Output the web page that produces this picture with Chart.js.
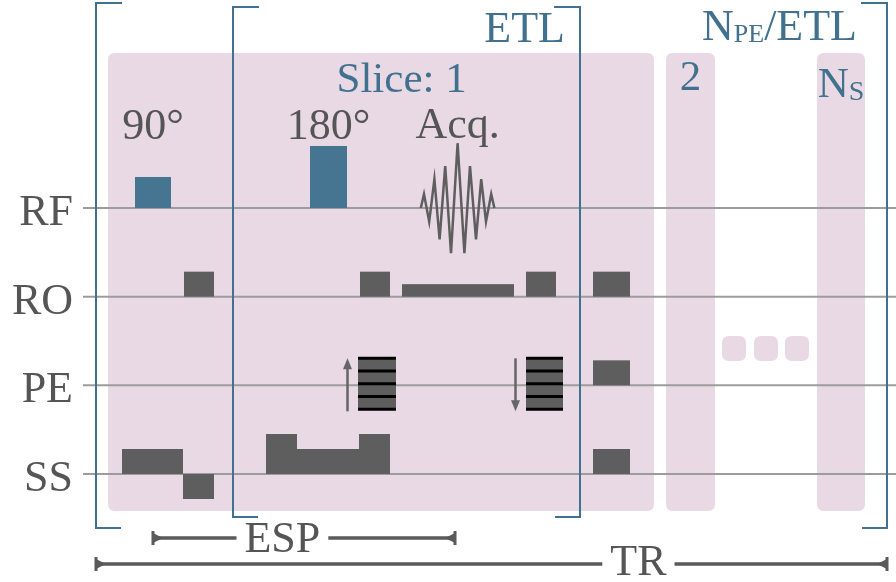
<!DOCTYPE html>
<html>
<head>
<meta charset="utf-8">
<script src="https://cdn.jsdelivr.net/npm/chart.js@4.4.1/dist/chart.umd.min.js"></script>
<style>
  html, body { margin: 0; padding: 0; background: #ffffff; }
  canvas { display: block; }
</style>
</head>
<body>
<canvas id="seq" width="896" height="582"></canvas>
<script>
// Fast spin echo timing diagram.
// Time runs along x in arbitrary units; each channel sits on its own row of y.

const channels = ['RF', 'RO', 'PE', 'SS'];
const channelRow = [3, 2, 1, 0];

// RF pulses: [start, end, amplitude]
const rfPulses = [[33.75, 42.75, 1], [77.5, 86.75, 2]];
const rfLabels = ['90°', '180°'];

// Sampled echo (time, amplitude)
const acqTime = [105.2, 106, 107.3, 108.6, 109.9, 111.3, 112.75, 114.4, 116.1, 117.5, 119, 120.3, 121.5, 122.8, 123.6];
const acqAmp  = [0, 0.45, -0.44, 0.93, -1.01, 1.35, -1.46, 2.09, -1.46, 1.35, -1.01, 0.93, -0.44, 0.45, 0];
const acqLabel = 'Acq.';

// Gradient lobes: [start, end, amplitude]
const roLobes = [[46, 53.5, 1], [90, 97.5, 1], [100.5, 128.5, 0.5], [131.5, 139, 1], [148.25, 157.5, 1]];
const peLobes = [[148.25, 157.5, 1]];
const ssLobes = [[30.5, 45.75, 1], [45.75, 53.5, -1], [66.5, 74.25, 1.6], [74.25, 89.75, 1],
                 [89.75, 97.5, 1.6], [148.25, 157.5, 1]];

// Phase-encode tables: [start, end, step direction] and the table's levels
const peTables = [[89.5, 99, 1], [131.5, 140.75, -1]];
const peSteps = [1.08, 0.57, 0.06, -0.45, -0.96];

// Slice blocks inside one TR: [start, end]
const sliceBlocks = [[27, 163.5], [166.5, 178.75], [204.25, 216.25]];
const sliceNames = ['Slice: 1', '2', 'N'];
const sliceLabelTime = [100.4, 172.6, 210.25];
const skipMarks = [183.5, 191.5, 199.25];

// Timing spans
const etlSpan = [58.25, 145];
const trSpan = [24, 221.75];
const espSpan = [38.25, 113.75];
const espLabelTime = 70.6;
const trLabelTime = 159.6;

// ---- look ----
const T_MIN = 0, T_MAX = 224;
const Y_MAX = 474 / 88.67, Y_MIN = -108 / 88.67;
const GRAD_UNIT = 25 / 88.67;   // row units per gradient amplitude unit
const RF_UNIT = 31 / 88.67;     // row units per RF amplitude unit
const SERIF = '"Liberation Serif", "Times New Roman", Tinos, serif';
const BLUE = '#41718e';
const RF_BLUE = '#467591';
const GREY_TXT = '#555555';
const GRAD = '#5e5e5e';
const PINK = '#e8d9e4';
const BASE = '#9c9c9c';

function roundRect(ctx, x, y, w, h, r) {
  ctx.beginPath();
  ctx.moveTo(x + r, y);
  ctx.lineTo(x + w - r, y);
  ctx.quadraticCurveTo(x + w, y, x + w, y + r);
  ctx.lineTo(x + w, y + h - r);
  ctx.quadraticCurveTo(x + w, y + h, x + w - r, y + h);
  ctx.lineTo(x + r, y + h);
  ctx.quadraticCurveTo(x, y + h, x, y + h - r);
  ctx.lineTo(x, y + r);
  ctx.quadraticCurveTo(x, y, x + r, y);
  ctx.closePath();
}

// Rich text: parts = [{t, size, dy}], drawn left to right
function richWidth(ctx, parts) {
  let w = 0;
  parts.forEach(p => { ctx.font = p.size + 'px ' + SERIF; w += ctx.measureText(p.t).width; });
  return w;
}
function drawRich(ctx, parts, x, y, align, color) {
  const w = richWidth(ctx, parts);
  let cx = align === 'right' ? x - w : align === 'center' ? x - w / 2 : x;
  ctx.fillStyle = color;
  ctx.textAlign = 'left';
  ctx.textBaseline = 'alphabetic';
  parts.forEach(p => {
    ctx.font = p.size + 'px ' + SERIF;
    ctx.fillText(p.t, cx, y + (p.dy || 0));
    cx += ctx.measureText(p.t).width;
  });
}

function arrow(ctx, x, y0, y1) {
  const dir = Math.sign(y1 - y0);
  ctx.strokeStyle = '#666666';
  ctx.fillStyle = '#666666';
  ctx.lineWidth = 2.5;
  ctx.beginPath();
  ctx.moveTo(x, y0);
  ctx.lineTo(x, y1 - dir * 8);
  ctx.stroke();
  ctx.beginPath();
  ctx.moveTo(x, y1);
  ctx.lineTo(x - 4.5, y1 - dir * 11);
  ctx.lineTo(x + 4.5, y1 - dir * 11);
  ctx.closePath();
  ctx.fill();
}

function endCap(ctx, x, y, inward) {
  ctx.fillRect(x - 1.5, y - 7, 3, 14);
  ctx.beginPath();
  ctx.moveTo(x, y - 5);
  ctx.lineTo(x, y + 5);
  ctx.lineTo(x + inward * 10, y);
  ctx.closePath();
  ctx.fill();
}

function spanWithLabel(ctx, X, span, yPx, label, labelT, baseline) {
  ctx.font = '44px ' + SERIF;
  const w = ctx.measureText(label).width;
  const cx = X(labelT);
  const a = X(span[0]), b = X(span[1]);
  ctx.strokeStyle = '#5a5a5a';
  ctx.fillStyle = '#5a5a5a';
  ctx.lineWidth = 3.5;
  ctx.beginPath();
  ctx.moveTo(a, yPx); ctx.lineTo(cx - w / 2 - 8, yPx);
  ctx.moveTo(cx + w / 2 + 8, yPx); ctx.lineTo(b, yPx);
  ctx.stroke();
  endCap(ctx, a, yPx, 1);
  endCap(ctx, b, yPx, -1);
  ctx.fillStyle = GREY_TXT;
  ctx.textAlign = 'center';
  ctx.textBaseline = 'alphabetic';
  ctx.fillText(label, cx, baseline);
}

function bracket(ctx, x, yTop, yBot, dir) {
  ctx.strokeStyle = BLUE;
  ctx.lineWidth = 2;
  ctx.beginPath();
  ctx.moveTo(x + dir * 26, yTop);
  ctx.lineTo(x, yTop);
  ctx.lineTo(x, yBot);
  ctx.lineTo(x + dir * 25, yBot);
  ctx.stroke();
}

const diagram = {
  id: 'diagram',
  beforeDatasetsDraw(chart) {
    const ctx = chart.ctx;
    const X = v => chart.scales.x.getPixelForValue(v);
    const Y = v => chart.scales.y.getPixelForValue(v);
    ctx.save();
    // slice blocks
    const top = Y(4.748), bot = Y(-0.417);
    ctx.fillStyle = PINK;
    sliceBlocks.forEach(b => {
      roundRect(ctx, X(b[0]), top, X(b[1]) - X(b[0]), bot - top, 7);
      ctx.fill();
    });
    // skipped slices
    skipMarks.forEach(t => {
      const cx = X(t), cy = Y(1.415);
      roundRect(ctx, cx - 12, cy - 12.5, 24, 25, 7);
      ctx.fill();
    });
    ctx.restore();
  },
  afterDatasetsDraw(chart) {
    const ctx = chart.ctx;
    const X = v => chart.scales.x.getPixelForValue(v);
    const Y = v => chart.scales.y.getPixelForValue(v);
    ctx.save();

    // RF pulses
    ctx.fillStyle = RF_BLUE;
    rfPulses.forEach(p => {
      const y0 = Y(3), y1 = Y(3 + p[2] * RF_UNIT);
      ctx.fillRect(X(p[0]), y1, X(p[1]) - X(p[0]), y0 - y1);
    });

    // gradient lobes
    ctx.fillStyle = GRAD;
    const lobes = (list, row) => list.forEach(g => {
      const y0 = Y(row), y1 = Y(row + g[2] * GRAD_UNIT);
      ctx.fillRect(X(g[0]), Math.min(y0, y1), X(g[1]) - X(g[0]), Math.abs(y1 - y0));
    });
    lobes(roLobes, 2);
    lobes(peLobes, 1);
    lobes(ssLobes, 0);

    // phase-encode tables
    peTables.forEach(tb => {
      const x0 = X(tb[0]), x1 = X(tb[1]);
      const yT = Y(1 + peSteps[0] * GRAD_UNIT);
      const yB = Y(1 + peSteps[peSteps.length - 1] * GRAD_UNIT);
      ctx.fillStyle = GRAD;
      ctx.fillRect(x0, yT, x1 - x0, yB - yT);
      ctx.strokeStyle = '#000000';
      ctx.lineWidth = 3;
      ctx.beginPath();
      peSteps.forEach(s => {
        const y = Y(1 + s * GRAD_UNIT);
        ctx.moveTo(x0, y); ctx.lineTo(x1, y);
      });
      ctx.stroke();
      const ax = x0 - 10.5;
      const up = Y(1 + 1.08 * GRAD_UNIT), dn = Y(1 - 1.04 * GRAD_UNIT);
      if (tb[2] > 0) arrow(ctx, ax, dn, up); else arrow(ctx, ax, up, dn);
    });

    // brackets
    bracket(ctx, X(trSpan[0]), Y(5.312), Y(-0.609), 1);
    bracket(ctx, X(trSpan[1]), Y(5.312), Y(-0.609), -1);
    bracket(ctx, X(etlSpan[0]), Y(5.267), Y(-0.485), 1);
    bracket(ctx, X(etlSpan[1]), Y(5.267), Y(-0.485), -1);

    // channel names
    channels.forEach((c, i) => {
      drawRich(ctx, [{ t: c, size: 44 }], X(18.25), Y(channelRow[i]) + 17, 'right', GREY_TXT);
    });

    // pulse and acquisition labels
    rfPulses.forEach((p, i) => {
      drawRich(ctx, [{ t: rfLabels[i], size: 44 }], X((p[0] + p[1]) / 2), Y(3) - 69, 'center', GREY_TXT);
    });
    drawRich(ctx, [{ t: acqLabel, size: 44 }], X((acqTime[0] + acqTime[acqTime.length - 1]) / 2), Y(3) - 70, 'center', GREY_TXT);

    // slice labels
    const blockTop = Y(4.748);
    drawRich(ctx, [{ t: sliceNames[0], size: 43 }], X(sliceLabelTime[0]), blockTop + 39, 'center', BLUE);
    drawRich(ctx, [{ t: sliceNames[1], size: 43 }], X(sliceLabelTime[1]), blockTop + 37, 'center', BLUE);
    drawRich(ctx, [{ t: sliceNames[2], size: 43 }, { t: 'S', size: 28, dy: 3 }], X(sliceLabelTime[2]), blockTop + 44, 'center', BLUE);

    // echo train and repetition labels
    drawRich(ctx, [{ t: 'ETL', size: 44 }], X(etlSpan[1]) - 15, Y(5.267) + 35, 'right', BLUE);
    drawRich(ctx, [{ t: 'N', size: 44 }, { t: 'PE', size: 26, dy: 2 }, { t: '/ETL', size: 44 }],
             X(trSpan[1]) - 30, Y(5.312) + 37, 'right', BLUE);

    // ESP and TR spans
    spanWithLabel(ctx, X, espSpan, Y(-0.722), 'ESP', espLabelTime, Y(-0.722) + 14);
    spanWithLabel(ctx, X, trSpan, Y(-1.015), 'TR', trLabelTime, Y(-1.015) + 11);

    ctx.restore();
  }
};

const baselineSets = channelRow.map(r => ({
  data: [{ x: 20.75, y: r }, { x: T_MAX, y: r }],
  showLine: true, borderColor: BASE, borderWidth: 2, pointRadius: 0
}));

const echoSet = {
  data: acqTime.map((t, i) => ({ x: t, y: 3 + acqAmp[i] * RF_UNIT })),
  showLine: true, borderColor: '#5e5e5e', borderWidth: 2.5, pointRadius: 0,
  tension: 0, borderJoinStyle: 'miter'
};

new Chart(document.getElementById('seq'), {
  type: 'scatter',
  data: { datasets: [echoSet, ...baselineSets] },
  options: {
    responsive: false,
    animation: false,
    devicePixelRatio: 1,
    events: [],
    layout: { padding: 0 },
    plugins: { legend: { display: false }, tooltip: { enabled: false }, title: { display: false } },
    scales: {
      x: { type: 'linear', display: false, min: T_MIN, max: T_MAX },
      y: { type: 'linear', display: false, min: Y_MIN, max: Y_MAX }
    }
  },
  plugins: [diagram]
});
</script>
</body>
</html>
